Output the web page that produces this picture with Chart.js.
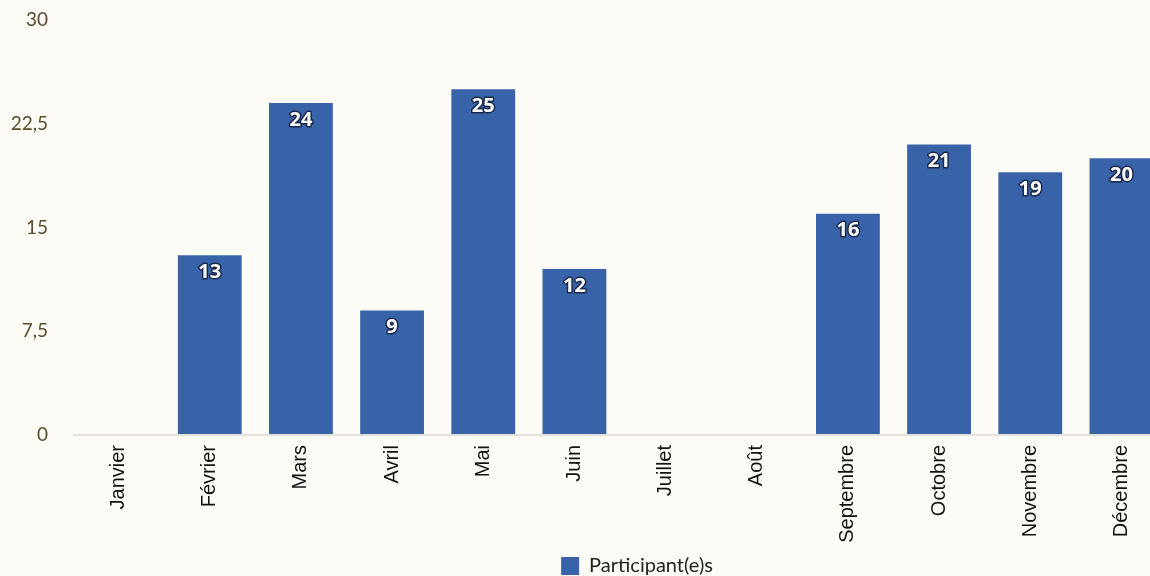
<!DOCTYPE html>
<html>
<head>
<meta charset="utf-8">
<script src="https://cdn.jsdelivr.net/npm/chart.js@4"></script>
<style>
html,body{margin:0;padding:0;background:#fdfcf6;overflow:hidden;width:1150px;height:576px;}
canvas{display:block;}
</style>
</head>
<body>
<canvas id="c" width="1274" height="576" style="width:1274px;height:576px"></canvas>
<script>
const categories = ['Janvier','Février','Mars','Avril','Mai','Juin','Juillet','Août','Septembre','Octobre','Novembre','Décembre'];
const participants = [0,13,24,9,25,12,0,0,16,21,19,20];
const seriesName = 'Participant(e)s';
const yMin = 0, yMax = 30, yStep = 7.5;

const barLabels = {
  id: 'barLabels',
  afterDatasetsDraw(chart) {
    const ctx = chart.ctx;
    const meta = chart.getDatasetMeta(0);
    ctx.save();
    ctx.font = 'bold 20px "Open Sans", Lato, sans-serif';
    ctx.textAlign = 'center';
    ctx.textBaseline = 'middle';
    meta.data.forEach((bar, i) => {
      const v = chart.data.datasets[0].data[i];
      if (!v) return;
      const y = bar.y + 17;
      ctx.lineWidth = 3;
      ctx.strokeStyle = 'rgba(20,30,60,0.85)';
      ctx.lineJoin = 'round';
      ctx.strokeText(String(v), bar.x, y);
      ctx.fillStyle = '#ffffff';
      ctx.fillText(String(v), bar.x, y);
    });
    ctx.restore();
  }
};

new Chart(document.getElementById('c'), {
  type: 'bar',
  data: {
    labels: categories,
    datasets: [{
      label: seriesName,
      data: participants,
      backgroundColor: '#3963a8',
      borderWidth: 0,
      categoryPercentage: 1.0,
      barPercentage: 0.7
    }]
  },
  options: {
    responsive: false,
    animation: false,
    layout: { padding: { top: 20, right: 0, left: 0, bottom: -10 } },
    plugins: {
      legend: {
        position: 'bottom',
        labels: {
          boxWidth: 18, boxHeight: 18, padding: 4,
          color: '#222222',
          font: { family: 'Lato, "Open Sans", sans-serif', size: 20 }
        }
      },
      tooltip: { enabled: false }
    },
    scales: {
      x: {
        grid: { display: false },
        border: { display: false },
        afterFit(scale) { scale.height = 117; },
        ticks: {
          maxRotation: 90, minRotation: 90, padding: 2,
          color: '#111111',
          font: { family: '"Liberation Sans", Arial, sans-serif', size: 20 }
        }
      },
      y: {
        min: yMin, max: yMax,
        afterFit(scale) { scale.width = 73; scale.paddingTop = 0; scale.paddingBottom = 0; },
        border: { display: false },
        grid: {
          drawTicks: false,
          color: (c) => c.tick && c.tick.value === 0 ? '#e3e1da' : 'transparent',
          lineWidth: 2
        },
        ticks: {
          stepSize: yStep, padding: 25,
          color: '#5b4a30',
          font: { family: 'Lato, sans-serif', size: 19 },
          callback: (v) => String(v).replace('.', ',')
        }
      },
      yRight: {
        position: 'right',
        display: true,
        afterFit(scale) { scale.width = 107; scale.paddingTop = 0; scale.paddingBottom = 0; },
        border: { display: false },
        grid: { display: false, drawTicks: false },
        ticks: { display: false }
      }
    }
  },
  plugins: [barLabels]
});
</script>
</body>
</html>
